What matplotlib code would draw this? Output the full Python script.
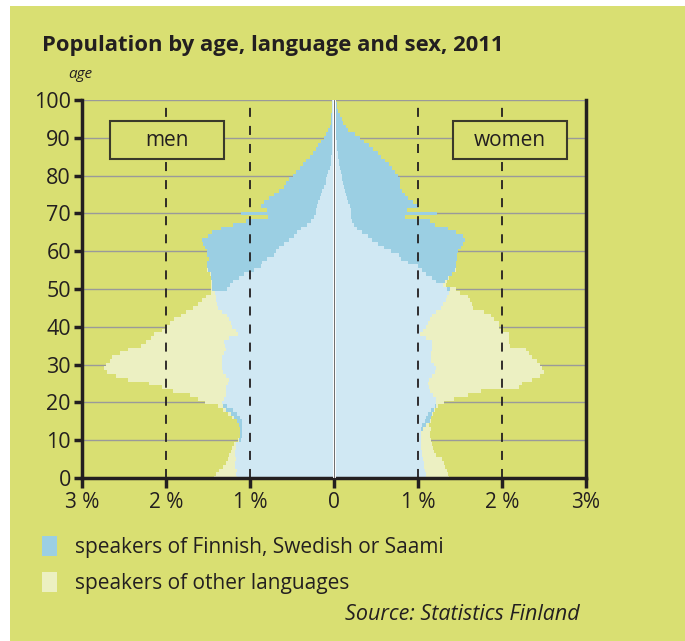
import numpy as np
import matplotlib
matplotlib.use("Agg")
import matplotlib.pyplot as plt
from matplotlib.patches import Rectangle

# share of population (%) by single year of age, 0..100
ages = np.arange(0, 101)

# speakers of Finnish, Swedish or Saami (outer edge of the blue bars)
men_domestic = [
    1.16, 1.17, 1.16, 1.18, 1.18, 1.17, 1.18, 1.18, 1.17, 1.17,
    1.13, 1.12, 1.12, 1.12, 1.13, 1.15, 1.19, 1.23, 1.28, 1.32,
    1.33, 1.31, 1.29, 1.29, 1.28, 1.26, 1.25, 1.28, 1.32, 1.33,
    1.33, 1.33, 1.33, 1.31, 1.29, 1.30, 1.31, 1.25, 1.14, 1.17,
    1.22, 1.23, 1.25, 1.27, 1.33, 1.38, 1.39, 1.40, 1.41, 1.42,
    1.45, 1.45, 1.45, 1.46, 1.47, 1.50, 1.51, 1.51, 1.49, 1.51,
    1.51, 1.53, 1.56, 1.57, 1.50, 1.45, 1.35, 1.20, 1.05, 0.78,
    1.11, 0.80, 0.87, 0.83, 0.77, 0.72, 0.66, 0.60, 0.57, 0.54,
    0.49, 0.45, 0.41, 0.37, 0.33, 0.29, 0.25, 0.22, 0.19, 0.15,
    0.12, 0.09, 0.07, 0.05, 0.04, 0.03, 0.03, 0.02, 0.02, 0.02,
    0.02]
women_domestic = [
    1.09, 1.09, 1.08, 1.07, 1.07, 1.06, 1.05, 1.05, 1.04, 1.03,
    1.03, 1.03, 1.03, 1.06, 1.10, 1.14, 1.15, 1.17, 1.19, 1.21,
    1.21, 1.21, 1.18, 1.14, 1.13, 1.12, 1.13, 1.17, 1.20, 1.21,
    1.19, 1.16, 1.15, 1.16, 1.17, 1.17, 1.17, 1.10, 1.02, 1.06,
    1.10, 1.12, 1.14, 1.17, 1.22, 1.27, 1.30, 1.33, 1.35, 1.37,
    1.38, 1.30, 1.32, 1.36, 1.40, 1.44, 1.45, 1.45, 1.46, 1.47,
    1.48, 1.51, 1.54, 1.56, 1.53, 1.45, 1.36, 1.20, 1.14, 0.85,
    1.23, 0.87, 1.00, 0.94, 0.88, 0.85, 0.81, 0.79, 0.78, 0.78,
    0.76, 0.73, 0.69, 0.65, 0.61, 0.56, 0.52, 0.47, 0.42, 0.36,
    0.31, 0.25, 0.17, 0.14, 0.11, 0.09, 0.07, 0.05, 0.04, 0.03,
    0.02]

# lighter inner part of the blue bars
men_inner = [
    1.16, 1.17, 1.16, 1.18, 1.18, 1.17, 1.18, 1.18, 1.17, 1.17,
    1.11, 1.10, 1.09, 1.09, 1.09, 1.10, 1.12, 1.15, 1.20, 1.27,
    1.33, 1.31, 1.29, 1.29, 1.28, 1.26, 1.25, 1.28, 1.32, 1.33,
    1.33, 1.33, 1.33, 1.31, 1.29, 1.30, 1.31, 1.25, 1.14, 1.17,
    1.22, 1.23, 1.25, 1.27, 1.33, 1.38, 1.39, 1.40, 1.41, 1.42,
    1.27, 1.24, 1.20, 1.13, 1.07, 0.95, 0.87, 0.86, 0.80, 0.72,
    0.69, 0.66, 0.60, 0.54, 0.48, 0.44, 0.39, 0.32, 0.27, 0.24,
    0.22, 0.21, 0.20, 0.19, 0.17, 0.16, 0.14, 0.12, 0.10, 0.09,
    0.08, 0.07, 0.05, 0.04, 0.03, 0.03, 0.02, 0.02, 0.02, 0.02,
    0.02, 0.02, 0.02, 0.02, 0.02, 0.02, 0.02, 0.02, 0.02, 0.02,
    0.02]
women_inner = [
    1.09, 1.09, 1.08, 1.07, 1.07, 1.06, 1.05, 1.05, 1.04, 1.03,
    1.03, 1.03, 1.03, 1.04, 1.05, 1.08, 1.10, 1.12, 1.15, 1.20,
    1.21, 1.21, 1.18, 1.14, 1.13, 1.12, 1.13, 1.17, 1.20, 1.21,
    1.19, 1.16, 1.15, 1.16, 1.17, 1.17, 1.17, 1.10, 1.02, 1.06,
    1.10, 1.12, 1.14, 1.17, 1.22, 1.27, 1.30, 1.33, 1.35, 1.37,
    1.34, 1.30, 1.22, 1.17, 1.10, 1.05, 1.00, 0.88, 0.80, 0.77,
    0.68, 0.60, 0.52, 0.45, 0.40, 0.33, 0.27, 0.24, 0.22, 0.20,
    0.20, 0.20, 0.19, 0.17, 0.15, 0.14, 0.13, 0.12, 0.11, 0.10,
    0.09, 0.08, 0.07, 0.06, 0.06, 0.05, 0.05, 0.04, 0.04, 0.03,
    0.02, 0.02, 0.02, 0.02, 0.02, 0.02, 0.02, 0.02, 0.02, 0.02,
    0.02]

# speakers of other languages (stacked outside the blue bars)
men_other = [
    0.27, 0.23, 0.21, 0.14, 0.11, 0.09, 0.07, 0.05, 0.04, 0.02,
    0.01, 0.00, 0.00, 0.00, 0.00, 0.01, 0.02, 0.03, 0.04, 0.06,
    0.20, 0.31, 0.43, 0.63, 0.77, 0.94, 1.20, 1.32, 1.38, 1.41,
    1.39, 1.34, 1.31, 1.24, 1.16, 1.00, 0.93, 0.93, 1.00, 0.88,
    0.77, 0.72, 0.65, 0.55, 0.43, 0.30, 0.23, 0.17, 0.11, 0.05,
    0.02, 0.02, 0.01, 0.01, 0.01, 0.01, 0.00, 0.00, 0.00, 0.00,
    0.00, 0.00, 0.00, 0.00, 0.00, 0.00, 0.00, 0.00, 0.00, 0.00,
    0.00, 0.00, 0.00, 0.00, 0.00, 0.00, 0.00, 0.00, 0.00, 0.00,
    0.00, 0.00, 0.00, 0.00, 0.00, 0.00, 0.00, 0.00, 0.00, 0.00,
    0.00, 0.00, 0.00, 0.00, 0.00, 0.00, 0.00, 0.00, 0.00, 0.00,
    0.00]
women_other = [
    0.28, 0.27, 0.27, 0.25, 0.24, 0.23, 0.17, 0.14, 0.14, 0.14,
    0.12, 0.11, 0.11, 0.09, 0.03, 0.01, 0.01, 0.01, 0.01, 0.03,
    0.10, 0.22, 0.42, 0.61, 1.07, 1.12, 1.23, 1.28, 1.30, 1.27,
    1.26, 1.26, 1.21, 1.16, 1.11, 0.93, 0.91, 0.98, 1.06, 0.94,
    0.86, 0.85, 0.76, 0.70, 0.57, 0.39, 0.34, 0.29, 0.24, 0.13,
    0.07, 0.03, 0.02, 0.01, 0.01, 0.01, 0.00, 0.00, 0.00, 0.00,
    0.00, 0.00, 0.00, 0.00, 0.00, 0.00, 0.00, 0.00, 0.00, 0.00,
    0.00, 0.00, 0.00, 0.00, 0.00, 0.00, 0.00, 0.00, 0.00, 0.00,
    0.00, 0.00, 0.00, 0.00, 0.00, 0.00, 0.00, 0.00, 0.00, 0.00,
    0.00, 0.00, 0.00, 0.00, 0.00, 0.00, 0.00, 0.00, 0.00, 0.00,
    0.00]

x_ticks = [-3, -2, -1, 0, 1, 2, 3]
x_labels = ["3 %", "2 %", "1 %", "0", "1 %", "2 %", "3%"]
y_ticks = list(range(0, 101, 10))
legend_labels = ["speakers of Finnish, Swedish or Saami", "speakers of other languages"]

BG = "#d9df72"
BLUE = "#9bcfe3"
LIGHTBLUE = "#d0e8f3"
OTHER = "#ecf0c2"
INK = "#231f20"

plt.rcParams["font.family"] = ["Open Sans", "DejaVu Sans"]

W, H = 685, 641
fig = plt.figure(figsize=(6.85, 6.41), dpi=100, facecolor="white")
fig.patches.append(Rectangle((10 / W, 0), 1, 1 - 6 / H, transform=fig.transFigure,
                             facecolor=BG, edgecolor="none", zorder=-10))
ax = fig.add_axes([82 / W, 1 - 478 / H, (586 - 82) / W, (478 - 100) / H])
ax.set_facecolor(BG)

md = np.array(men_domestic)
wd = np.array(women_domestic)

# other languages stacked outside the domestic bars
ax.barh(ages, -np.array(men_other), left=-md, height=1.0, color=OTHER, linewidth=0, zorder=2)
ax.barh(ages, np.array(women_other), left=wd, height=1.0, color=OTHER, linewidth=0, zorder=2)
# domestic speakers
ax.barh(ages, -md, height=1.0, color=BLUE, linewidth=0, zorder=2)
ax.barh(ages, wd, height=1.0, color=BLUE, linewidth=0, zorder=2)
ax.barh(ages, -np.array(men_inner), height=1.0, color=LIGHTBLUE, linewidth=0, zorder=2)
ax.barh(ages, np.array(women_inner), height=1.0, color=LIGHTBLUE, linewidth=0, zorder=2)

ax.set_xlim(-3, 3)
ax.set_ylim(0, 100)

for y in y_ticks[1:]:
    ax.axhline(y, color="#9a9a9a", lw=1.0, zorder=1)
for x in [-2, -1, 1, 2]:
    ax.axvline(x, color=INK, lw=1.3, dashes=(5, 5), zorder=3)
ax.axvline(0, color="white", lw=2.0, zorder=3)
ax.axvline(0, color="#555555", lw=0.6, zorder=4)

ax.set_xticks(x_ticks)
ax.set_xticklabels(x_labels)
ax.set_yticks(y_ticks)
ax.tick_params(axis="x", length=7, width=2.5, color=INK, labelsize=15, labelcolor=INK, pad=3)
ax.tick_params(axis="y", length=6, width=2.5, color=INK, labelsize=15.5, labelcolor=INK, pad=2)
for side in ["left", "bottom", "right"]:
    ax.spines[side].set_linewidth(2.5)
    ax.spines[side].set_color(INK)
ax.spines["top"].set_visible(False)

# sex labels in fixed boxes
for label, x0, x1 in [("men", -2.67, -1.31), ("women", 1.42, 2.77)]:
    ax.add_patch(Rectangle((x0, 84.4), x1 - x0, 10.0, facecolor=BG, edgecolor="#3a3a2a",
                           lw=1.5, zorder=6))
    ax.text((x0 + x1) / 2, 89.3, label, ha="center", va="center", fontsize=15,
            color=INK, zorder=7)

fig.text(42 / W, 1 - 45 / H, "Population by age, language and sex, 2011", fontsize=15.8,
         fontweight="bold", color=INK, va="center", ha="left")
fig.text(68 / W, 1 - 75 / H, "age", fontsize=11, style="italic", color=INK, va="center")

# legend
for i, (label, col) in enumerate(zip(legend_labels, [BLUE, OTHER])):
    top = 536 + i * 36
    fig.patches.append(Rectangle((42 / W, 1 - (top + 20) / H), 15 / W, 20 / H,
                                 transform=fig.transFigure, facecolor=col, edgecolor="none"))
    fig.text(75 / W, 1 - (top + 11) / H, label, fontsize=15, color=INK, va="center", ha="left")

fig.text(580 / W, 1 - 615 / H, "Source: Statistics Finland", fontsize=15.5, style="italic",
         color=INK, ha="right", va="center")

fig.savefig("out.png", dpi=100, facecolor=fig.get_facecolor())
